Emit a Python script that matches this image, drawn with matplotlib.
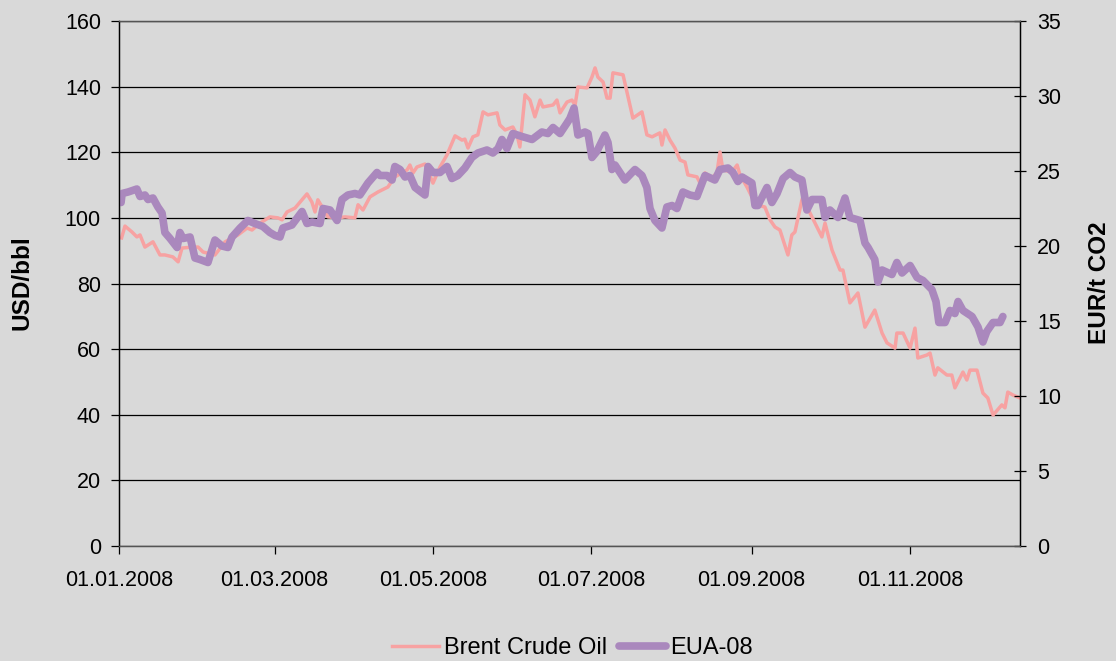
"""
Brent crude oil vs. EUA-08 carbon allowance prices, 2008
"""

import pandas as pd
import matplotlib
matplotlib.use("Agg")
import matplotlib.pyplot as plt
import matplotlib.dates as mdates

plt.rcParams['font.family'] = ['Liberation Sans', 'DejaVu Sans']

# Days after 01.01.2008 and prices
brent_day = [1, 2.3, 5.0, 6.9, 8.1, 10.0, 13.1, 15.8, 17.7, 20.8, 22.8, 24.3, 28.2, 30.5,
             32.4, 37.0, 40.9, 45.9, 49.4, 51.3, 54.4, 58.2, 61.3, 62.9, 64.8, 67.9, 72.5,
             74.4, 75.6, 76.7, 80.6, 84.1, 87.2, 91.0, 92.2, 94.1, 96.8, 99.9, 103.7, 106.4,
             111.1, 112.2, 113.4, 114.9, 118.0, 121.1, 123.8, 126.5, 129.6, 132.3, 133.4,
             134.6, 136.5, 138.4, 140.4, 142.3, 145.8, 146.9, 148.9, 151.9, 153.5, 154.6,
             156.6, 158.5, 160.4, 162.4, 163.5, 167.4, 168.9, 170.1, 172.8, 174.7, 175.9,
             177.0, 180.5, 182.4, 183.6, 184.7, 186.7, 188.2, 189.4, 190.5, 194.4, 195.9,
             198.2, 201.7, 203.6, 205.6, 208.6, 209.4, 210.6, 212.5, 214.4, 216.4, 218.3,
             219.4, 222.9, 224.1, 226.0, 228.7, 230.6, 231.8, 232.9, 236.4, 238.4, 239.5,
             242.2, 244.1, 246.4, 249.1, 251.1, 253.0, 254.9, 258.0, 259.5, 260.7, 263.4,
             263.8, 266.5, 271.1, 272.3, 275.0, 278.1, 279.2, 281.9, 285.0, 287.7, 291.5,
             294.3, 296.2, 299.3, 300.0, 302.4, 305.1, 307.0, 308.1, 311.6, 312.8, 314.7,
             315.8, 319.3, 321.2, 322.4, 325.5, 327.0, 328.2, 330.9, 333.2, 335.1, 337.1,
             340.5, 341.7, 342.8, 344.8, 347.5]
brent_usd = [93.9, 97.5, 95.7, 94.2, 94.8, 91.1, 92.7, 88.7, 88.7, 88.1, 86.6, 90.8, 91.1, 91.1,
             89.6, 88.7, 92.7, 94.8, 96.9, 96.3, 98.4, 100.3, 100.0, 99.4, 101.8, 103.0, 107.3,
             104.8, 101.8, 105.5, 100.3, 100.0, 100.3, 100.0, 104.0, 102.4, 106.4, 107.9, 109.4,
             112.5, 114.6, 116.1, 113.7, 115.5, 116.4, 110.6, 115.5, 119.2, 125.0, 123.7, 124.0,
             121.3, 124.7, 125.3, 132.3, 131.4, 132.0, 128.3, 126.8, 127.7, 125.3, 121.6,
             137.5, 135.9, 130.8, 135.9, 133.8, 134.4, 135.9, 132.0, 135.3, 135.9, 134.4,
             139.9, 139.6, 142.9, 145.7, 142.9, 141.4, 136.5, 136.5, 144.2, 143.6, 138.4,
             130.4, 132.3, 125.3, 124.7, 125.9, 122.2, 126.8, 123.7, 121.3, 117.6, 117.0,
             113.1, 112.5, 110.6, 113.7, 112.2, 113.7, 120.1, 114.6, 114.0, 116.1, 113.1,
             109.4, 106.4, 103.9, 103.3, 99.4, 97.2, 96.3, 88.7, 94.8, 95.7, 105.5,
             106.4, 101.5, 94.2, 98.4, 90.2, 84.1, 84.1, 74.1, 77.1, 66.7, 71.9,
             64.9, 61.9, 60.3, 64.9, 64.9, 60.3, 66.4, 57.3, 58.2, 58.8, 52.1,
             54.3, 52.1, 52.1, 48.2, 53.0, 50.6, 53.6, 53.6, 46.6, 45.1, 39.9,
             43.0, 42.1, 46.9, 46.0, 45.1]

eua_day = [0.8, 1.2, 3.5, 6.9, 8.1, 10.0, 11.2, 13.1, 15.0, 16.6, 17.7, 19.7, 22.4, 23.5, 24.7,
           27.4, 29.3, 31.2, 34.3, 37.0, 39.7, 42.0, 43.6, 46.7, 49.7, 52.4, 55.5, 58.2, 60.2,
           62.1, 63.2, 66.7, 70.6, 72.5, 74.4, 77.5, 78.7, 81.4, 84.1, 86.0, 88.3, 91.0, 92.9,
           96.0, 99.5, 100.7, 103.4, 105.3, 106.4, 108.4, 110.3, 112.2, 114.2, 118.0, 119.2,
           121.1, 123.8, 126.5, 128.4, 130.7, 133.4, 136.1, 138.4, 141.9, 144.2, 146.2, 147.7,
           149.6, 151.9, 155.4, 159.3, 163.1, 165.4, 167.4, 170.1, 172.8, 173.9, 175.5, 177.0,
           179.7, 180.9, 182.4, 184.3, 187.4, 188.6, 190.1, 191.3, 195.1, 199.0, 201.7, 203.6,
           204.8, 206.7, 209.4, 211.3, 213.3, 215.2, 217.5, 220.2, 222.9, 226.0, 229.8, 231.8,
           234.9, 236.8, 238.7, 240.3, 244.1, 245.3, 246.4, 249.9, 251.8, 253.8, 256.1, 258.8,
           260.7, 263.4, 265.3, 267.3, 271.1, 272.3, 274.2, 277.3, 280.0, 281.9, 285.8, 287.7,
           288.9, 291.5, 292.7, 294.3, 298.1, 300.0, 302.0, 305.1, 307.8, 310.1, 313.5, 315.1,
           316.2, 318.6, 320.5, 322.4, 323.6, 325.5, 329.0, 331.3, 333.2, 334.7, 337.1, 339.8,
           340.9]
eua_eur = [22.9, 23.5, 23.6, 23.8, 23.3, 23.4, 23.1, 23.2, 22.6, 22.2, 20.9, 20.5, 19.9, 20.9, 20.5,
           20.6, 19.2, 19.1, 18.9, 20.4, 20.0, 19.9, 20.6, 21.2, 21.7, 21.5, 21.3, 20.9, 20.7,
           20.6, 21.2, 21.4, 22.3, 21.5, 21.6, 21.5, 22.5, 22.4, 21.7, 23.1, 23.4, 23.5, 23.4,
           24.2, 24.9, 24.7, 24.7, 24.4, 25.3, 25.1, 24.6, 24.7, 23.9, 23.4, 25.3,
           24.9, 24.9, 25.3, 24.5, 24.7, 25.2, 25.9, 26.2, 26.4, 26.2, 26.5, 27.1,
           26.5, 27.5, 27.3, 27.1, 27.6, 27.5, 27.9, 27.5, 28.2, 28.5, 29.2, 27.4,
           27.6, 27.5, 25.9, 26.3, 27.4, 26.9, 25.1, 25.4, 24.4, 25.1, 24.7, 23.9,
           22.5, 21.7, 21.2, 22.6, 22.7, 22.5, 23.6, 23.4, 23.3, 24.7, 24.4, 25.1,
           25.2, 24.9, 24.3, 24.6, 24.2, 22.7, 22.7, 23.9, 22.9, 23.5, 24.5, 24.9,
           24.6, 24.4, 22.4, 23.1, 23.1, 21.9, 22.4, 21.9, 23.2, 21.9, 21.7, 20.2,
           19.9, 19.1, 17.6, 18.4, 18.1, 18.9, 18.2, 18.7, 17.9, 17.7, 17.1, 16.3,
           14.9, 14.9, 15.7, 15.5, 16.3, 15.7, 15.3, 14.6, 13.6, 14.3, 14.9, 14.9,
           15.3]

x_ticks = ['2008-01-01', '2008-03-01', '2008-05-01', '2008-07-01', '2008-09-01', '2008-11-01']


def to_dates(days):
    return pd.Timestamp('2008-01-01') + pd.to_timedelta(days, unit='D')


def main():
    bg = '#d9d9d9'
    fig = plt.figure(figsize=(11.16, 6.61), dpi=100, facecolor=bg)
    ax1 = fig.add_axes([119 / 1116, 1 - 546 / 661, (1020 - 119) / 1116, (546 - 21) / 661])
    ax1.set_facecolor(bg)
    ax2 = ax1.twinx()

    l1, = ax1.plot(to_dates(brent_day), brent_usd, color='#f7a2a2', lw=2.5,
                   solid_joinstyle='round', label='Brent Crude Oil')
    l2, = ax2.plot(to_dates(eua_day), eua_eur, color='#aa88bd', lw=5.5,
                   solid_joinstyle='round', solid_capstyle='round', label='EUA-08')

    start = pd.Timestamp('2008-01-01')
    ax1.set_xlim(start, start + pd.Timedelta(days=347.5))
    ax1.set_ylim(0, 160)
    ax2.set_ylim(0, 35)
    ax1.set_yticks(range(0, 161, 20))
    ax2.set_yticks(range(0, 36, 5))
    ax1.set_xticks(pd.to_datetime(x_ticks))
    ax1.xaxis.set_major_formatter(mdates.DateFormatter('%d.%m.%Y'))

    # Horizontal gridlines only
    ax1.yaxis.grid(True, color='black', lw=0.9)
    ax1.set_axisbelow(True)

    for ax in (ax1, ax2):
        for s in ax.spines.values():
            s.set_color('black')
            s.set_linewidth(0.9)
        ax.spines['top'].set_color('#555555')
        ax.spines['bottom'].set_color('#555555')

    ax1.tick_params(axis='both', labelsize=15.5, width=0.9, length=6, pad=7, colors='black')
    ax1.tick_params(axis='x', pad=11)
    ax2.tick_params(axis='y', labelsize=15.5, width=0.9, length=9, direction='inout', pad=8)

    # Axis titles placed where they sit in the original
    fig.text(22 / 1116, 1 - 283 / 661, 'USD/bbl', rotation=90, ha='center', va='center',
             fontsize=17.5, fontweight='bold')
    fig.text(1100 / 1116, 1 - 283 / 661, 'EUR/t CO2', rotation=90, ha='center', va='center',
             fontsize=17.5, fontweight='bold')

    fig.legend(handles=[l1, l2], loc='center', bbox_to_anchor=(0.513, 0.02),
               ncol=2, frameon=False, fontsize=17, handlelength=2.0,
               handletextpad=0.2, columnspacing=0.5)

    fig.savefig('out.png', dpi=100, facecolor=bg)


if __name__ == "__main__":
    main()
